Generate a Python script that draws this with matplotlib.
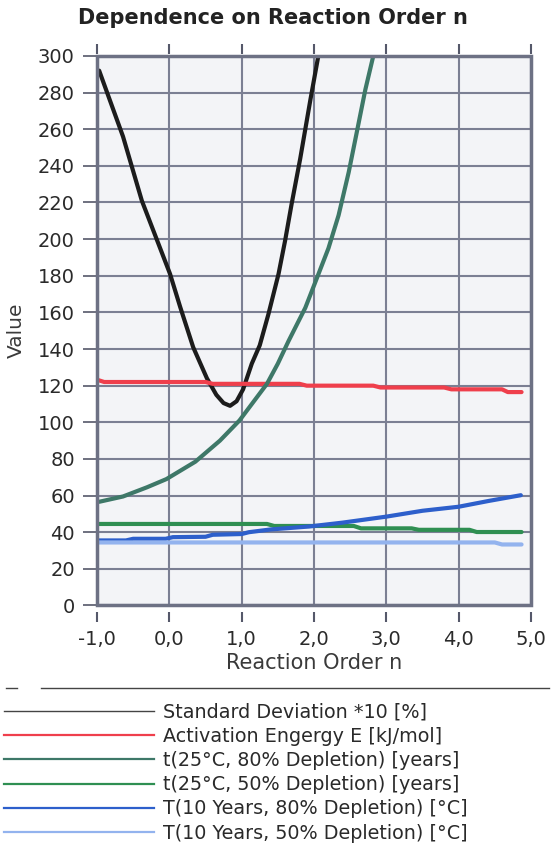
import matplotlib
matplotlib.use("Agg")
from matplotlib import pyplot as plt
from matplotlib.lines import Line2D
from matplotlib.patches import Rectangle
from matplotlib.ticker import FuncFormatter, MultipleLocator

plt.rcParams['font.family'] = ['DejaVu Sans']

# values
n_std = [-0.97, -0.64, -0.38, 0.01, 0.15, 0.33, 0.52, 0.65, 0.75, 0.84,
         0.93, 1.02, 1.14, 1.25, 1.37, 1.51, 1.60, 1.69, 1.81, 1.95, 2.06, 2.12]
std_dev = [292, 256, 221, 181, 163, 141, 124, 115, 110.5, 109,
           111.5, 118, 132, 142, 159, 181, 199, 219, 244, 276, 300, 314]

n_E = [-0.98, -0.9, 0.5, 0.6, 1.8, 1.9, 2.82, 2.92, 3.8, 3.9, 4.6, 4.68, 4.87]
act_E = [123, 122, 122, 121, 121, 120, 120, 119, 119, 118, 118, 116.5, 116.5]

n_t80 = [-0.97, -0.64, -0.31, -0.04, 0.36, 0.70, 0.97, 1.35, 1.50, 1.65,
         1.88, 2.04, 2.20, 2.34, 2.48, 2.59, 2.71, 2.82, 2.88]
t80 = [56.6, 59.5, 64.5, 69, 78.5, 90, 101, 121, 132, 144.5,
       162.5, 178.7, 195, 213, 236.5, 258, 281.6, 300, 312]

n_t50 = [-0.98, 1.35, 1.45, 2.55, 2.65, 3.35, 3.45, 4.15, 4.25, 4.87]
t50 = [44.5, 44.5, 43.4, 43.4, 42.1, 42.1, 41.3, 41.3, 40.1, 40.1]

n_T80 = [-0.98, -0.6, -0.5, -0.05, 0.05, 0.5, 0.6, 1.0, 1.1, 1.4,
         1.93, 2.39, 3.0, 3.5, 4.0, 4.42, 4.86]
T80 = [35.5, 35.5, 36.4, 36.4, 37.3, 37.5, 38.6, 39, 40, 41.5,
       43.1, 45.2, 48.5, 51.7, 53.9, 57.1, 60.2]

n_T50 = [-0.98, 4.5, 4.6, 4.87]
T50 = [34.4, 34.4, 33.3, 33.3]

labels = ['Standard Deviation *10 [%]',
          'Activation Engergy E [kJ/mol]',
          't(25°C, 80% Depletion) [years]',
          't(25°C, 50% Depletion) [years]',
          'T(10 Years, 80% Depletion) [°C]',
          'T(10 Years, 50% Depletion) [°C]']
colors = ['#1c1c1c', '#ef3f4c', '#3e7868', '#2f8f52', '#2d5fcb', '#93b3ee']

fig = plt.figure(figsize=(5.52, 8.57), dpi=100)
ax = fig.add_axes([0.1757, 0.2935, 0.7862, 0.6412])
ax.set_facecolor('#f3f4f7')

series = [(n_std, std_dev), (n_E, act_E), (n_t80, t80),
          (n_t50, t50), (n_T80, T80), (n_T50, T50)]
for (xs, ys), c in zip(series, colors):
    ax.plot(xs, ys, color=c, lw=3, solid_capstyle='round', zorder=3)

ax.set_xlim(-1, 5)
ax.set_ylim(0, 300)
ax.xaxis.set_major_locator(MultipleLocator(1))
ax.yaxis.set_major_locator(MultipleLocator(20))
ax.xaxis.set_major_formatter(FuncFormatter(lambda v, _: f"{v:.1f}".replace('.', ',')))
ax.grid(True, color='#7b7f93', lw=1.5, zorder=1)
ax.set_axisbelow(True)

for s in ax.spines.values():
    s.set_color('none')
ax.spines['bottom'].set_position(('outward', 5))
ax.spines['top'].set_position(('outward', 1.5))
ax.add_patch(Rectangle((0, 0), 1, 1, transform=ax.transAxes, fill=False,
                       ec='#6d7184', lw=2.5, clip_on=False, zorder=4))

ax.tick_params(axis='x', top=True, direction='out', length=7, width=1.5,
               color='#55586a', labelsize=14, labelcolor='#2a2a2a', pad=6)
ax.tick_params(axis='y', direction='out', length=10, width=1.2,
               color='#55586a', labelsize=14, labelcolor='#2a2a2a', pad=6)

ax.set_xlabel('Reaction Order n', fontsize=15, color='#3a3a3a')
ax.xaxis.set_label_coords(0.5, -0.086)
ax.set_ylabel('Value', fontsize=14.5, color='#3a3a3a')
ax.yaxis.set_label_coords(-0.165, 0.5)

fig.text(0.495, 0.979, 'Dependence on Reaction Order n', ha='center', va='center',
         fontsize=15, fontweight='bold', color='#222222')

# separator above legend
fig.add_artist(Line2D([0.075, 0.995], [0.197, 0.197], color='#444444', lw=1))
fig.add_artist(Line2D([0.01, 0.03], [0.197, 0.197], color='#444444', lw=1))

handles = [Line2D([], [], color=c, lw=1.6) for c in colors]
handles[0].set_color('#444444')
handles[0].set_lw(1.0)
fig.legend(handles, labels, loc='upper left', bbox_to_anchor=(0.008, 0.18),
           frameon=False, fontsize=13.8, handlelength=7.8, handletextpad=0.5,
           labelspacing=0.27, borderaxespad=0, borderpad=0, labelcolor='#2a2a2a')

fig.savefig('out.png', dpi=100)
